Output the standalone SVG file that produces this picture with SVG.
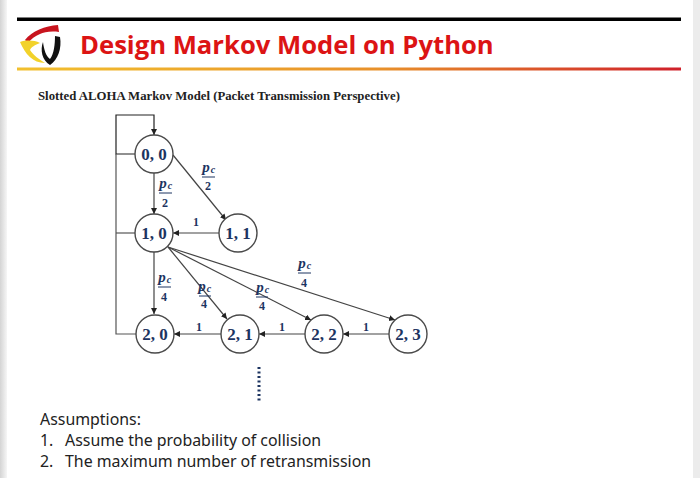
<svg xmlns="http://www.w3.org/2000/svg" width="700" height="478" viewBox="0 0 700 478">
<defs>
<linearGradient id="rule" x1="0" x2="1" y1="0" y2="0"><stop offset="0" stop-color="#f2c02e"/><stop offset="0.55" stop-color="#e8902a"/><stop offset="1" stop-color="#cf1f2a"/></linearGradient>
<linearGradient id="edge" x1="0" x2="1" y1="0" y2="0"><stop offset="0" stop-color="#d4d4d4"/><stop offset="1" stop-color="#f6f6f6"/></linearGradient>
<marker id="arr" markerWidth="7" markerHeight="7" refX="6" refY="3" orient="auto" markerUnits="userSpaceOnUse"><path d="M0,0 L6,3 L0,6 Z" fill="#222"/></marker>
</defs>
<style>
.st{fill:#fff;stroke:#4a4a4a;stroke-width:1.4}
.sl{font:bold 17px "Liberation Serif",serif;fill:#1d3461;text-anchor:middle}
.c{fill:none;stroke:#555;stroke-width:1.2}
.ca{fill:none;stroke:#444;stroke-width:1.2;marker-end:url(#arr)}
.p{font:italic bold 15px "Liberation Serif",serif;fill:#1d3461;text-anchor:middle}
.o{font:italic bold 10px "Liberation Serif",serif;fill:#1d3461;text-anchor:middle}
.n{font:bold 12px "Liberation Serif",serif;fill:#1d3461;text-anchor:middle}
.b{stroke:#1d3461;stroke-width:1}
.a{font:15.900px "Noto Sans","DejaVu Sans",sans-serif;fill:#222}
</style>
<rect width="700" height="478" fill="#fff"/>
<rect x="0" y="0" width="7" height="478" fill="url(#edge)"/>
<rect x="693" y="0" width="7" height="478" fill="#ececec"/>
<rect x="17" y="17.500" width="664" height="3.500" fill="#000"/>
<rect x="17" y="67.500" width="664" height="3" fill="url(#rule)"/>
<g id="logo">
<path d="M25,40 C32,31 45,26 58,25 L59,32 C51,31 44,32 40,34 C35,36 31,39 28,43 Z" fill="#c8141e"/>
<path d="M20,42 C26,40 34,40 40,43 C35,45 31,47 30,50 C33,55 39,59 45,63 C33,63 25,54 20,42 Z" fill="#f2d22a"/>
<path d="M43,42 C44,50 46,56 50,59 C54,54 55,44 55,36 L60,37 C62,48 58,60 50,65 C42,60 40,50 43,42 Z" fill="#111"/>
</g>
<text x="80" y="54" font-family="'Open Sans','Noto Sans',sans-serif" font-weight="700" font-size="25.650" fill="#dc1414">Design Markov Model on Python</text>
<text x="38" y="100" font-family="'Liberation Serif',serif" font-weight="700" font-size="12.780" fill="#222">Slotted ALOHA Markov Model (Packet Transmission Perspective)</text>
<g id="connectors">
<path class="ca" d="M136,154 H116 V115 H154 V135" style="stroke:#222"/>
<path class="c" d="M136,233 H116"/>
<path class="c" d="M136,334 H116 V154"/>
<path class="ca" d="M154,173 V214"/>
<path class="ca" d="M173,155 L226,220"/>
<path class="ca" d="M219,233 L173,233"/>
<path class="ca" d="M154,252 V314"/>
<path class="ca" d="M168,247 L227,319"/>
<path class="ca" d="M168,247 L311,320"/>
<path class="ca" d="M168,247 L395,320"/>
<path class="ca" d="M221,334 L174,334"/>
<path class="ca" d="M305,334 L259,334"/>
<path class="ca" d="M389,334 L343,334"/>
<text class="n" x="196" y="226">1</text>
<text class="n" x="199" y="331">1</text>
<text class="n" x="282" y="331">1</text>
<text class="n" x="366" y="331">1</text>
<g id="lbl-00-10"><text class="p" x="163" y="188">p</text><text class="o" x="170" y="189">c</text><line class="b" x1="159" x2="172" y1="193" y2="193"/><text class="n" x="165" y="207">2</text></g>
<g id="lbl-00-11"><text class="p" x="206" y="172">p</text><text class="o" x="213" y="173">c</text><line class="b" x1="202" x2="215" y1="177" y2="177"/><text class="n" x="208" y="190">2</text></g>
<g id="lbl-10-20"><text class="p" x="162" y="282">p</text><text class="o" x="169" y="283">c</text><line class="b" x1="158" x2="171" y1="287" y2="287"/><text class="n" x="164" y="301">4</text></g>
<g id="lbl-10-21"><text class="p" x="202" y="291">p</text><text class="o" x="209" y="292">c</text><line class="b" x1="199" x2="211" y1="296" y2="296"/><text class="n" x="204" y="308">4</text></g>
<g id="lbl-10-22"><text class="p" x="260" y="292">p</text><text class="o" x="267" y="293">c</text><line class="b" x1="256" x2="268" y1="297" y2="297"/><text class="n" x="262" y="310">4</text></g>
<g id="lbl-10-23"><text class="p" x="302" y="268">p</text><text class="o" x="309" y="269">c</text><line class="b" x1="298" x2="311" y1="273" y2="273"/><text class="n" x="304" y="287">4</text></g>
</g>
<g id="n00"><circle class="st" cx="154" cy="154" r="19"/><text class="sl" x="154" y="160">0, 0</text></g>
<g id="n10"><circle class="st" cx="154" cy="233" r="19"/><text class="sl" x="154" y="239">1, 0</text></g>
<g id="n11"><circle class="st" cx="238" cy="233" r="19"/><text class="sl" x="238" y="239">1, 1</text></g>
<g id="n20"><circle class="st" cx="155" cy="334" r="19"/><text class="sl" x="155" y="340">2, 0</text></g>
<g id="n21"><circle class="st" cx="240" cy="334" r="19"/><text class="sl" x="240" y="340">2, 1</text></g>
<g id="n22"><circle class="st" cx="324" cy="334" r="19"/><text class="sl" x="324" y="340">2, 2</text></g>
<g id="n23"><circle class="st" cx="408" cy="334" r="19"/><text class="sl" x="408" y="340">2, 3</text></g>
<line x1="259" x2="259" y1="367" y2="401" stroke="#1d3461" stroke-width="3" stroke-dasharray="2 2.500"/>
<text class="a" x="40" y="425">Assumptions:</text>
<text class="a" x="40" y="446">1.</text><text class="a" x="65" y="446">Assume the probability of collision</text>
<text class="a" x="40" y="467">2.</text><text class="a" x="65" y="467">The maximum number of retransmission</text>
</svg>
